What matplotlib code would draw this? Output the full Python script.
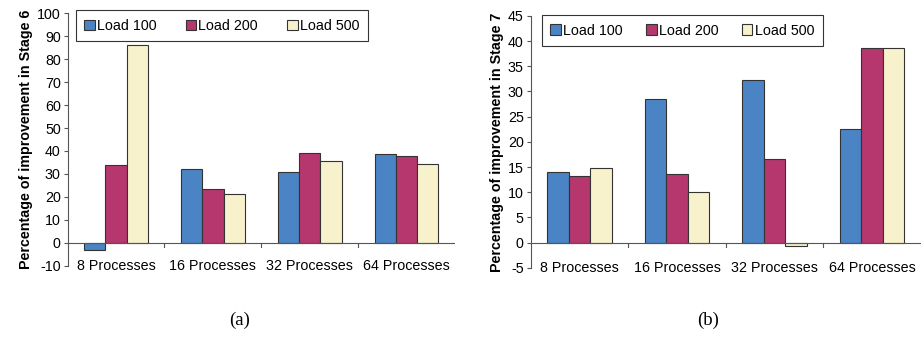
import numpy as np
import matplotlib.pyplot as plt

categories = ["8 Processes", "16 Processes", "32 Processes", "64 Processes"]
series_names = ["Load 100", "Load 200", "Load 500"]

# stage 6 (a)
stage6_load100 = [-3.2, 32.2, 31.0, 38.6]
stage6_load200 = [33.9, 23.4, 39.2, 37.6]
stage6_load500 = [86.0, 21.1, 35.5, 34.4]

# stage 7 (b)
stage7_load100 = [14.0, 28.5, 32.2, 22.5]
stage7_load200 = [13.2, 13.6, 16.6, 38.6]
stage7_load500 = [14.9, 10.1, -0.7, 38.6]

colors = ["#4a84c4", "#b5376e", "#f8f2cc"]
edge = "#333333"

plt.rcParams["font.family"] = ["Liberation Sans", "DejaVu Sans"]
plt.rcParams["axes.unicode_minus"] = False

fs = 10.3

fig = plt.figure(figsize=(9.22, 3.37), dpi=100)


def draw(ax, data, ylim, ystep, ylabel, legend_box):
    x = np.arange(len(categories))
    w = 0.22
    for i, vals in enumerate(data):
        ax.bar(x + (i - 1) * w, vals, w, color=colors[i], edgecolor=edge,
               linewidth=0.8, label=series_names[i], zorder=3)
    ax.set_xlim(-0.5, len(categories) - 0.5)
    ax.set_ylim(*ylim)
    ax.set_yticks(np.arange(ylim[0], ylim[1] + 0.1, ystep))
    ax.tick_params(axis="y", labelsize=fs, length=3, width=0.8, color="#555555",
                   pad=2)
    for s in ["top", "right", "bottom"]:
        ax.spines[s].set_visible(False)
    ax.spines["left"].set_color("#555555")
    ax.spines["left"].set_linewidth(0.8)
    # category axis crossing at zero
    ax.axhline(0, color="#555555", linewidth=0.8, zorder=4)
    for b in np.arange(0.5, len(categories) - 0.5, 1):
        ax.plot([b, b], [0, -(ylim[1] - ylim[0]) * 0.018], color="#555555",
                linewidth=0.8, clip_on=False)
    ax.set_xticks(x)
    ax.set_xticklabels(categories, fontsize=fs)
    ax.tick_params(axis="x", length=0, pad=-5)
    ax.set_ylabel(ylabel, fontsize=fs, fontweight="bold", labelpad=3)
    leg = ax.legend(loc="upper left", bbox_to_anchor=legend_box, ncol=3,
                    fontsize=fs, frameon=True, fancybox=False, edgecolor="black",
                    handlelength=0.75, handleheight=0.75, handletextpad=0.15,
                    columnspacing=1.5, borderpad=0.6, borderaxespad=0,
                    mode="expand")
    leg.get_frame().set_linewidth(0.8)
    leg.set_zorder(5)


ax1 = fig.add_axes([0.0734, 0.2116, 0.420, 0.749])
draw(ax1, [stage6_load100, stage6_load200, stage6_load500], (-10, 100), 10,
     "Percentage of improvement in Stage 6", (0.021, 1.012, 0.754, 0.0))

ax2 = fig.add_axes([0.5756, 0.2056, 0.4233, 0.747])
draw(ax2, [stage7_load100, stage7_load200, stage7_load500], (-5, 45), 5,
     "Percentage of improvement in Stage 7", (0.028, 1.004, 0.72, 0.0))

fig.text(240 / 922, 1 - 320 / 337, "(a)", ha="center", va="center",
         fontsize=13.5, family="Liberation Serif")
fig.text(708 / 922, 1 - 320 / 337, "(b)", ha="center", va="center",
         fontsize=13.5, family="Liberation Serif")

fig.savefig("out.png", dpi=100)
